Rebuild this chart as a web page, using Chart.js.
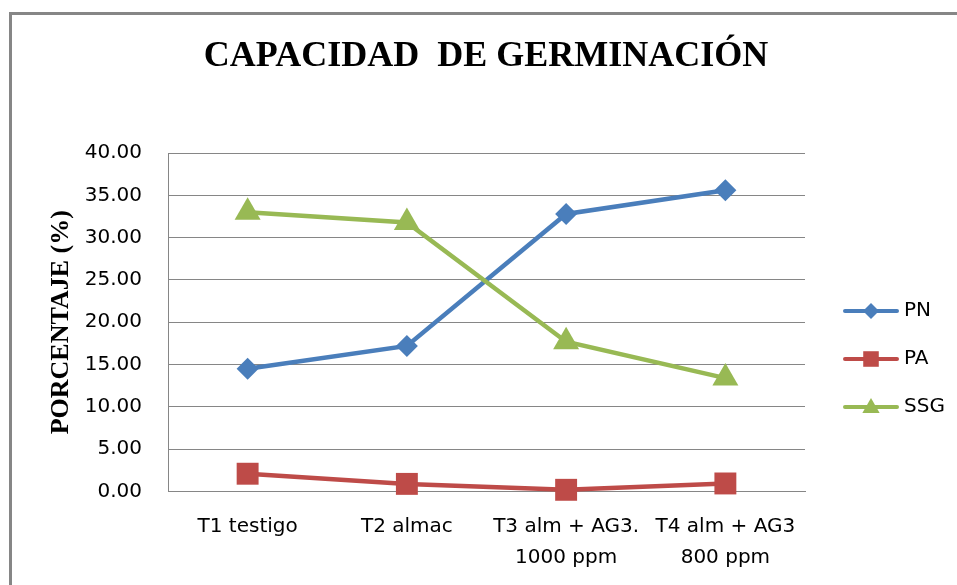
<!DOCTYPE html>
<html>
<head>
<meta charset="utf-8">
<script src="https://cdn.jsdelivr.net/npm/chart.js@4"></script>
<style>
  html, body { margin: 0; padding: 0; background: #fff; }
  #wrap { width: 957px; height: 585px; }
</style>
</head>
<body>
<div id="wrap"><canvas id="myChart" width="957" height="585"></canvas></div>
<script>
var tratamientos = ['T1 testigo', 'T2 almac', ['T3 alm + AG3.', '1000 ppm'], ['T4 alm + AG3', '800 ppm']];
var valoresPN = [14.5, 17.2, 32.8, 35.6];
var valoresPA = [2.1, 0.9, 0.2, 0.95];
var valoresSSG = [33.0, 31.8, 17.7, 13.4];
var ticksY = [0, 5, 10, 15, 20, 25, 30, 35, 40];

var azul = '#4A7EBB';
var rojo = '#BE4B48';
var verde = '#98B954';
var gris = '#868686';

// marco, titulo y leyenda dibujados a mano
const extras = {
    id: 'extras',
    beforeDraw(chart) {
        const ctx = chart.ctx;
        ctx.save();
        ctx.fillStyle = '#fff';
        ctx.fillRect(0, 0, chart.width, chart.height);
        ctx.fillStyle = gris;
        ctx.fillRect(9, 12, chart.width - 9, 3);
        ctx.fillRect(9, 12, 3, chart.height - 12);
        ctx.restore();
    },
    afterDraw(chart) {
        const ctx = chart.ctx;
        ctx.save();
        ctx.fillStyle = '#000';
        ctx.font = 'bold 36px "Liberation Serif"';
        ctx.textAlign = 'center';
        ctx.textBaseline = 'middle';
        ctx.fillText('CAPACIDAD  DE GERMINACIÓN', 486, 57);

        var items = [
            { text: 'PN', color: azul, style: 'rectRot', r: 8 },
            { text: 'PA', color: rojo, style: 'rect', r: 11 },
            { text: 'SSG', color: verde, style: 'triangle', r: 10 }
        ];
        var y0 = 311;
        items.forEach(function (it, i) {
            var y = y0 + i * 48;
            ctx.strokeStyle = it.color;
            ctx.lineWidth = 4;
            ctx.lineCap = 'round';
            ctx.beginPath();
            ctx.moveTo(845, y);
            ctx.lineTo(897, y);
            ctx.stroke();
            ctx.fillStyle = it.color;
            Chart.helpers.drawPoint(ctx, { pointStyle: it.style, radius: it.r, rotation: 0, borderWidth: 0 }, 871, y + (it.style === 'triangle' ? 1 : 0));
            ctx.fillStyle = '#000';
            ctx.font = '20px "DejaVu Sans"';
            ctx.textAlign = 'left';
            ctx.textBaseline = 'middle';
            ctx.fillText(it.text, 904, y);
        });
        ctx.restore();
    }
};

const data = {
    labels: tratamientos,
    datasets: [{
        label: 'PN',
        data: valoresPN,
        borderColor: azul,
        backgroundColor: azul,
        pointStyle: 'rectRot',
        pointRadius: 11,
        order: 3
    }, {
        label: 'PA',
        data: valoresPA,
        borderColor: rojo,
        backgroundColor: rojo,
        pointStyle: 'rect',
        pointRadius: 15.5,
        order: 2
    }, {
        label: 'SSG',
        data: valoresSSG,
        borderColor: verde,
        backgroundColor: verde,
        pointStyle: 'triangle',
        pointRadius: 15,
        order: 1
    }]
};

const config = {
    type: 'line',
    data: data,
    options: {
        responsive: false,
        animation: false,
        layout: {
            padding: { top: 153, right: 152, left: 0, bottom: 0 }
        },
        elements: {
            line: { borderWidth: 4.5, tension: 0 },
            point: { borderWidth: 0, hoverRadius: 11 }
        },
        datasets: {
            line: { clip: false }
        },
        plugins: {
            legend: { display: false },
            title: { display: false },
            tooltip: { enabled: false }
        },
        scales: {
            x: {
                offset: true,
                grid: { display: false, drawTicks: false, offset: true },
                border: { display: true, color: gris, width: 1 },
                ticks: {
                    color: '#000',
                    font: { family: 'DejaVu Sans', size: 20, lineHeight: 1.55 },
                    padding: 20,
                    maxRotation: 0,
                    autoSkip: false
                },
                afterFit: function (scale) { scale.height = 93.5; }
            },
            y: {
                min: 0,
                max: 40,
                afterBuildTicks: function (scale) {
                    scale.ticks = ticksY.map(function (v) { return { value: v }; });
                },
                grid: { color: gris, lineWidth: 1, drawTicks: false },
                border: { display: true, color: gris, width: 1 },
                ticks: {
                    color: '#000',
                    font: { family: 'DejaVu Sans', size: 20 },
                    padding: 26,
                    callback: function (v) { return Number(v).toFixed(2); }
                },
                title: {
                    display: true,
                    text: 'PORCENTAJE (%)',
                    color: '#000',
                    font: { family: 'Liberation Serif', size: 26, weight: 'bold' },
                    padding: { top: 46, bottom: 0 }
                },
                afterFit: function (scale) { scale.width = 168; }
            }
        }
    },
    plugins: [extras]
};

const myChart = new Chart(document.getElementById('myChart'), config);
</script>
</body>
</html>
